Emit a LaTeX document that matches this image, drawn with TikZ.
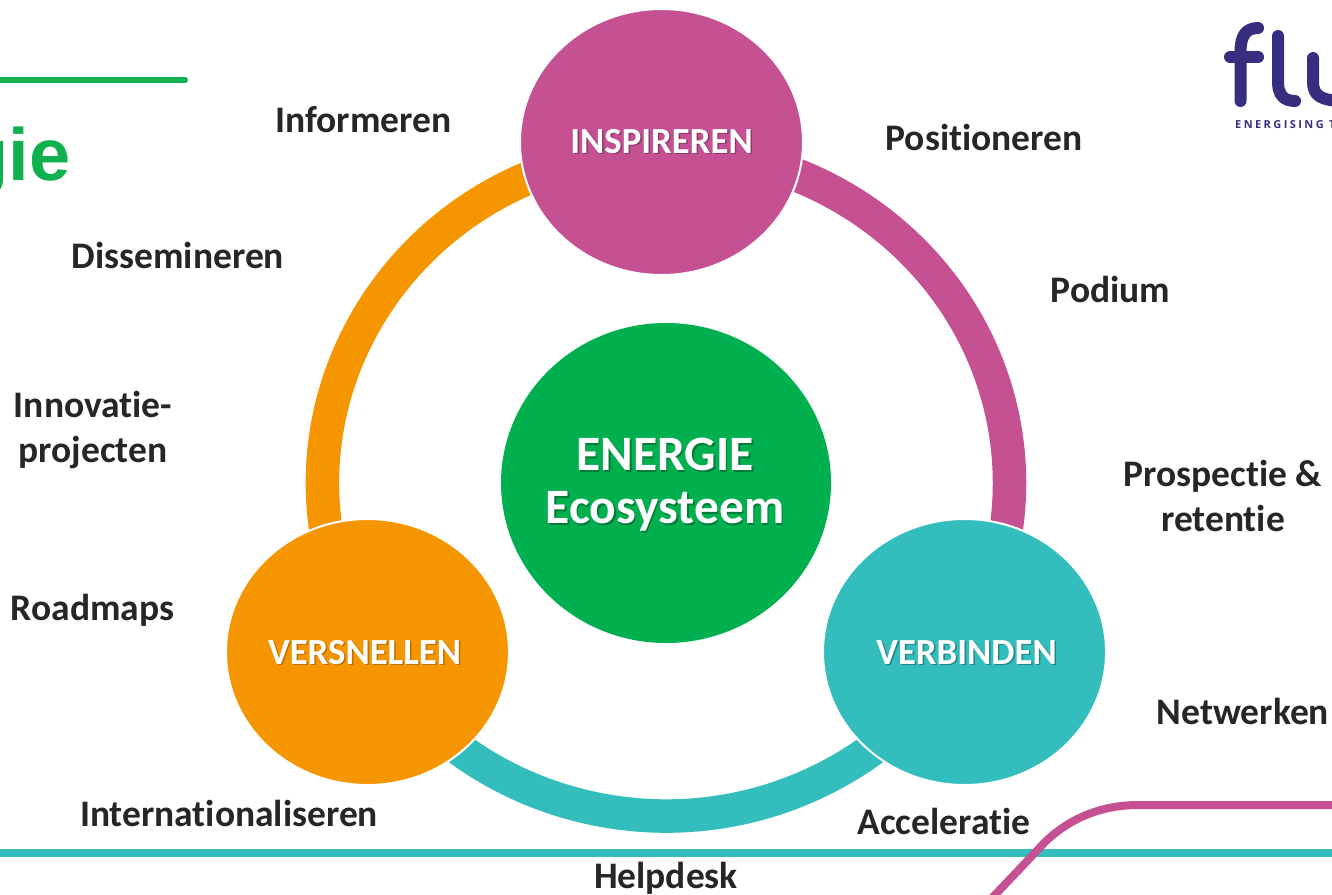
\documentclass[tikz,border=0pt]{standalone}
\usepackage{fontspec}
\usetikzlibrary{shapes.geometric}
\setmainfont[Ligatures=NoCommon]{Carlito}
\newfontfamily\titlefont{Liberation Sans}
\newfontfamily\logofont[LetterSpace=22]{Open Sans}
\definecolor{cpink}{HTML}{C55193}
\definecolor{corange}{HTML}{F59500}
\definecolor{cteal}{HTML}{33BDBD}
\definecolor{cgreen}{HTML}{00B04F}
\definecolor{ctitle}{HTML}{0FB14F}
\definecolor{clogo}{HTML}{362F80}
\definecolor{clabel}{HTML}{262626}
\tikzset{
  blob/.style={ellipse,draw=white,line width=2pt,inner sep=0pt,minimum width=283pt,minimum height=266pt},
  lab/.style={font=\bfseries\fontsize{37.5}{45}\selectfont,text=clabel,anchor=base,inner sep=0pt,align=center},
  heading/.style={font=\bfseries\fontsize{36.8}{38}\selectfont,text=white,anchor=base,inner sep=0pt},
  bigheading/.style={font=\bfseries\fontsize{49.5}{53}\selectfont,text=white,anchor=center,inner sep=0pt,align=center},
  ring/.style={line width=33.5pt,line cap=butt},
  stroke/.style={line cap=round,line join=round,clogo,line width=12pt}
}
\begin{document}
\begin{tikzpicture}[x=1pt,y=1pt]
\useasboundingbox (0,-894) rectangle (1332,0);
\fill[white] (0,-894) rectangle (1332,0);
% top left rule and title
\coordinate (ruleA) at (-5,-80);
\coordinate (ruleB) at (185,-80);
\draw[ctitle,line width=6pt,line cap=round] (ruleA) -- (ruleB);
\node[font=\titlefont\bfseries\fontsize{74}{74}\selectfont,text=ctitle,anchor=base east,inner sep=0pt] (title) at (70.5,-180) {gie};
% logo
\draw[stroke] (1240.5,-101) -- (1240.5,-52) .. controls (1240.5,-37) and (1245,-28) .. (1258,-28);
\draw[stroke] (1230,-57) -- (1258,-57);
\draw[stroke] (1278,-36) -- (1278,-82) .. controls (1278,-95) and (1284,-101) .. (1295,-101);
\draw[stroke] (1313,-58) -- (1313,-82) .. controls (1313,-95) and (1320,-101) .. (1345,-101);
\node[font=\logofont\bfseries\fontsize{11}{11}\selectfont,text=clogo,anchor=base west,inner sep=0pt] (tagline) at (1235,-128) {ENERGISING T};
% bottom lines
\coordinate (lineA) at (0,-853);
\coordinate (lineB) at (1332,-853);
\draw[cteal,line width=8pt] (lineA) -- (lineB);
\coordinate (curveA) at (992,-898);
\coordinate (curveB) at (1332,-805);
\draw[cpink,line width=8pt] (curveA) .. controls (1030,-858) .. (1045,-842) .. controls (1072,-816) and (1105,-805) .. (1138,-805) -- (curveB);
% ring arcs
\coordinate (hub) at (666,-483);
\draw[ring,cpink] (hub) ++(75:343.5 and 333) arc[start angle=75,end angle=-20,x radius=343.5,y radius=333];
\draw[ring,corange] (hub) ++(105:343.5 and 333) arc[start angle=105,end angle=195,x radius=343.5,y radius=333];
\draw[ring,cteal] (hub) ++(210:343.5 and 333) arc[start angle=210,end angle=330,x radius=343.5,y radius=333];
% circles
\node[blob,fill=cpink] (insp) at (661.5,-142) {};
\node[blob,fill=corange] (vers) at (367.5,-652) {};
\node[blob,fill=cteal] (verb) at (964.5,-652) {};
\node[ellipse,fill=cgreen,inner sep=0pt,minimum width=330pt,minimum height=320pt] (core) at (666,-483) {};
% circle labels
\node[heading,text=black!30!cpink] at (663,-154.5) {INSPIREREN};
\node[heading] (tinsp) at (661.5,-153) {INSPIREREN};
\node[heading,text=black!25!corange] at (366,-665.5) {VERSNELLEN};
\node[heading] (tvers) at (364.5,-664) {VERSNELLEN};
\node[heading,text=black!30!cteal] at (968,-665.5) {VERBINDEN};
\node[heading] (tverb) at (966.5,-664) {VERBINDEN};
\node[bigheading,text=black!30!cgreen] at (666.5,-486.5) {ENERGIE\\Ecosysteem};
\node[bigheading] (tcore) at (665,-485) {ENERGIE\\Ecosysteem};
% outer labels
\node[lab] (a) at (363.5,-132) {Informeren};
\node[lab] (b) at (984,-150) {Positioneren};
\node[lab] (c) at (178,-268) {Dissemineren};
\node[lab] (d) at (1110.5,-302) {Podium};
\node[lab,anchor=center] (e) at (93,-430) {Innovatie-\\projecten};
\node[lab,anchor=center] (f) at (1223,-496) {Prospectie \&\\retentie};
\node[lab] (g) at (92.5,-620) {Roadmaps};
\node[lab] (h) at (1243,-724) {Netwerken};
\node[lab] (i) at (229,-826) {Internationaliseren};
\node[lab] (j) at (944,-834) {Acceleratie};
\node[lab] (k) at (666,-888) {Helpdesk};
\end{tikzpicture}
\end{document}
